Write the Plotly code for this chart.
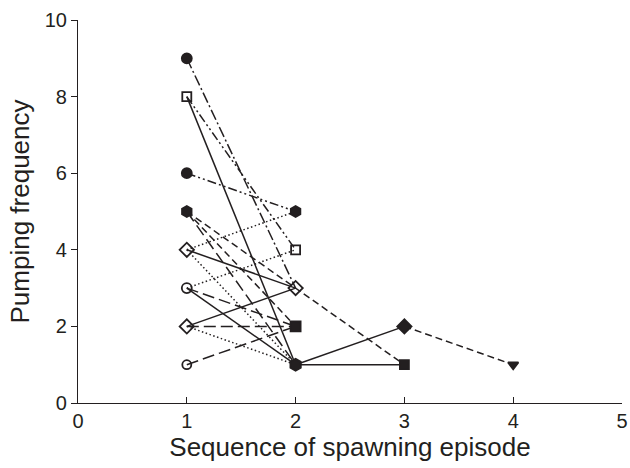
import plotly.graph_objects as go

# ---- data: individual spawning sequences (x = episode, y = pumping frequency)
series_x = [
    [1, 2], [1, 2], [1, 2], [1, 2],
    [1, 2, 3], [1, 2], [1, 2],
    [1, 2], [1, 2], [1, 2],
    [1, 2], [1, 2], [1, 2],
    [1, 2], [1, 2], [1, 2],
    [1, 2],
    [2, 3], [3, 4], [2, 3],
]
series_y = [
    [9, 3], [8, 4], [8, 1], [6, 5],
    [5, 3, 1], [5, 2], [5, 1],
    [4, 5], [4, 3], [4, 1],
    [3, 4], [3, 1], [3, 2],
    [2, 3], [2, 2], [2, 1],
    [1, 2],
    [1, 2], [2, 1], [1, 1],
]
DASHDOTDOT = "9px,3px,2px,3px,2px,3px"
DASHDOT = "11px,3px,2px,3px"
DASH = "7px,4px"
LONGDASH = "12px,5px"
DOT = "1.5px,2.5px"
series_dash = [
    DASHDOT, DASHDOTDOT, "solid", DASHDOTDOT,
    DASH, DASH, LONGDASH,
    DOT, "solid", DOT,
    DOT, "solid", LONGDASH,
    "solid", LONGDASH, DOT,
    LONGDASH,
    "solid", DASH, "solid",
]

# marker points
pt_x = [1, 1, 1, 1, 1, 1, 1, 1, 2, 2, 2, 2, 2, 3, 3, 4]
pt_y = [9, 8, 6, 5, 4, 3, 2, 1, 5, 4, 3, 2, 1, 2, 1, 1]
pt_symbol = ["circle", "square-open", "circle", "hexagon", "diamond-open", "circle-open",
             "diamond-open", "circle-open", "hexagon", "square-open", "diamond-open",
             "square", "hexagon", "diamond", "square", "triangle-down"]
pt_size = [10, 9, 10, 11, 11, 10, 11, 9, 11, 9, 11, 10, 12, 11, 9, 9]

INK = "#231f20"
fig = go.Figure()
for xs, ys, d in zip(series_x, series_y, series_dash):
    fig.add_trace(go.Scatter(x=xs, y=ys, mode="lines",
                             line=dict(color=INK, width=1.5, dash=d),
                             showlegend=False, hoverinfo="skip"))

fig.add_trace(go.Scatter(
    x=pt_x, y=pt_y, mode="markers",
    marker=dict(symbol=pt_symbol, size=pt_size, color=INK, opacity=1,
                line=dict(color=INK, width=1.8)),
    showlegend=False, cliponaxis=False))

FONT = "Liberation Sans, Arial, sans-serif"
fig.update_layout(
    width=630, height=468,
    margin=dict(l=78, r=2, t=20, b=65),
    paper_bgcolor="white", plot_bgcolor="white",
    font=dict(family=FONT, color=INK, size=20),
    xaxis=dict(range=[0, 5], tickvals=[0, 1, 2, 3, 4, 5], ticks="inside",
               ticklen=6, tickwidth=1.2, tickcolor=INK, showline=True,
               linecolor=INK, linewidth=1.2, showgrid=False, zeroline=False,
               tickfont=dict(size=20), ticklabeloverflow="allow",
               title=dict(text="Sequence of spawning episode", font=dict(size=26),
                          standoff=5)),
    yaxis=dict(range=[0, 10], tickvals=[0, 2, 4, 6, 8, 10], ticks="outside",
               ticklen=6, tickwidth=1.2, tickcolor=INK, showline=True,
               linecolor=INK, linewidth=1.2, showgrid=False, zeroline=False,
               tickfont=dict(size=20),
               title=dict(text="Pumping frequency", font=dict(size=26),
                          standoff=7)),
)
fig.write_html("out.html")
